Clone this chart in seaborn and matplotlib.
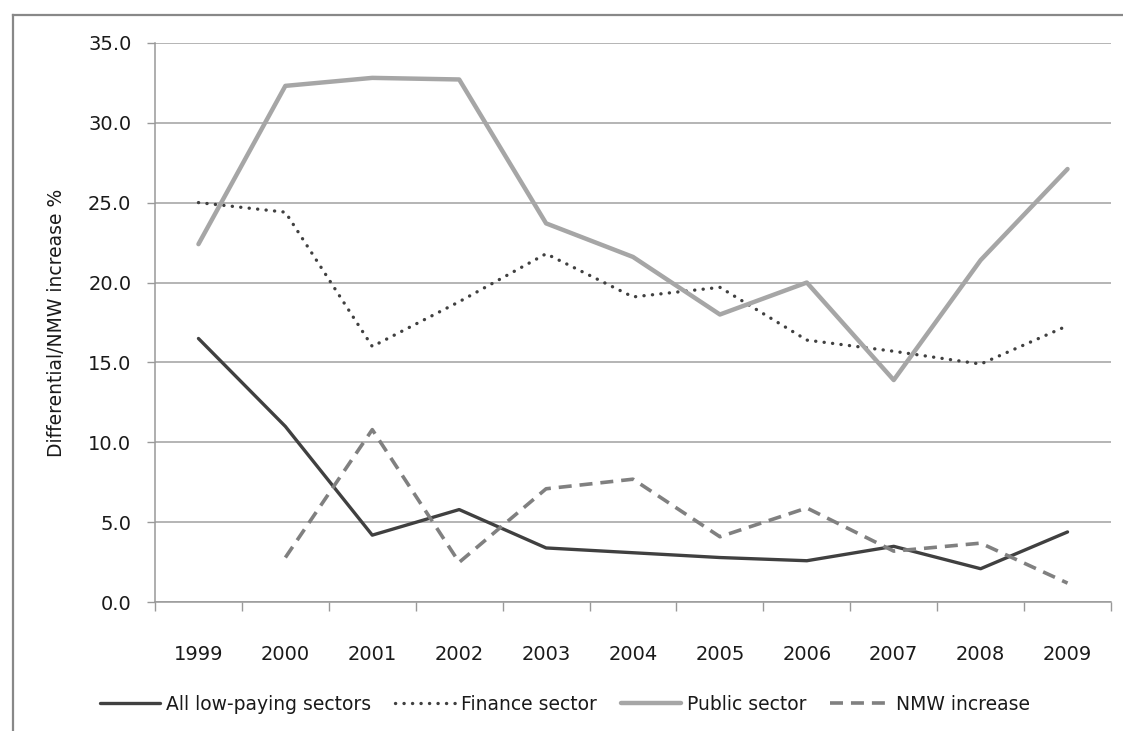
import numpy as np
import pandas as pd
import matplotlib
matplotlib.use("Agg")
import matplotlib.pyplot as plt
from matplotlib.lines import Line2D
from matplotlib.ticker import MultipleLocator, FixedLocator, FormatStrFormatter
import seaborn as sns

years = ["1999", "2000", "2001", "2002", "2003", "2004", "2005", "2006", "2007", "2008", "2009"]
all_low_paying = [16.5, 11.0, 4.2, 5.8, 3.4, 3.1, 2.8, 2.6, 3.5, 2.1, 4.4]
finance_sector = [25.0, 24.4, 16.0, 18.8, 21.8, 19.1, 19.7, 16.4, 15.7, 14.9, 17.3]
public_sector = [22.4, 32.3, 32.8, 32.7, 23.7, 21.6, 18.0, 20.0, 13.9, 21.4, 27.1]
nmw_increase = [np.nan, 2.8, 10.8, 2.5, 7.1, 7.7, 4.1, 5.9, 3.2, 3.7, 1.2]

series_names = ["All low-paying sectors", "Finance sector", "Public sector", "NMW increase"]
series_values = [all_low_paying, finance_sector, public_sector, nmw_increase]

sns.set_theme(style="white")
plt.rcParams["font.family"] = ["DejaVu Sans"]

fig = plt.figure(figsize=(11.23, 7.31), dpi=100)
ax = fig.add_axes([155 / 1123, 1 - 602.3 / 731, (1111 - 155) / 1123, (602.3 - 42.7) / 731])

styles = {
    "All low-paying sectors": dict(color="#404040", lw=2.4, ls="-"),
    "Finance sector": dict(color="#404040", lw=2.4, ls=(0, (0.05, 2.5)), dash_capstyle="round"),
    "Public sector": dict(color="#A6A6A6", lw=3.2, ls="-"),
    "NMW increase": dict(color="#808080", lw=2.6, ls=(0, (3.6, 2.2))),
}

x = np.arange(len(years))
for name, vals in zip(series_names, series_values):
    df = pd.DataFrame({"pos": x, "value": vals}).dropna()
    st = styles[name]
    sns.lineplot(data=df, x="pos", y="value", ax=ax, color=st["color"], linewidth=st["lw"],
                 linestyle=st["ls"], label=name, legend=False,
                 **({"dash_capstyle": st["dash_capstyle"]} if "dash_capstyle" in st else {}))

ax.set_xlim(-0.5, len(years) - 0.5)
ax.set_ylim(0, 35)
ax.yaxis.set_major_locator(MultipleLocator(5))
ax.yaxis.set_major_formatter(FormatStrFormatter("%.1f"))
ax.set_xticks(x)
ax.set_xticklabels(years)
ax.xaxis.set_minor_locator(FixedLocator(np.arange(-0.5, len(years), 1.0)))

ax.grid(axis="y", color="#A0A0A0", linewidth=1.1)
ax.grid(axis="x", visible=False)
ax.set_axisbelow(True)

for side in ["top", "right"]:
    ax.spines[side].set_visible(False)
for side in ["left", "bottom"]:
    ax.spines[side].set_color("#999999")
    ax.spines[side].set_linewidth(1.1)

ax.tick_params(axis="x", which="major", length=0, pad=31, labelsize=14, labelcolor="#1a1a1a")
ax.tick_params(axis="x", which="minor", length=6.5, width=1.0, color="#999999", direction="out", bottom=True)
ax.tick_params(axis="y", which="major", length=6, width=1.0, color="#999999", direction="out", left=True,
               pad=11, labelsize=14, labelcolor="#1a1a1a")

ax.set_xlabel("")
ax.set_ylabel("Differential/NMW increase %", fontsize=13.5, color="#1a1a1a")
ax.yaxis.set_label_coords(-0.093, 0.5)

handles = [Line2D([0], [0], color=styles[n]["color"], lw=styles[n]["lw"], ls=styles[n]["ls"],
                  **({"dash_capstyle": styles[n]["dash_capstyle"]} if "dash_capstyle" in styles[n] else {}))
           for n in series_names]
fig.legend(handles, series_names, loc="center", bbox_to_anchor=(565 / 1123, 1 - 704 / 731),
           ncol=4, frameon=False, fontsize=13.5, handlelength=3.2, handletextpad=0.3,
           columnspacing=1.3, labelcolor="#1a1a1a")

# frame edges along the left and top of the figure
fig.add_artist(Line2D([13 / 1123, 13 / 1123], [0, 1 - 15 / 731], transform=fig.transFigure,
                      color="#888888", lw=1.6, solid_capstyle="projecting"))
fig.add_artist(Line2D([13 / 1123, 1], [1 - 15 / 731, 1 - 15 / 731], transform=fig.transFigure,
                      color="#888888", lw=1.6, solid_capstyle="projecting"))

fig.savefig("out.png", dpi=100)
